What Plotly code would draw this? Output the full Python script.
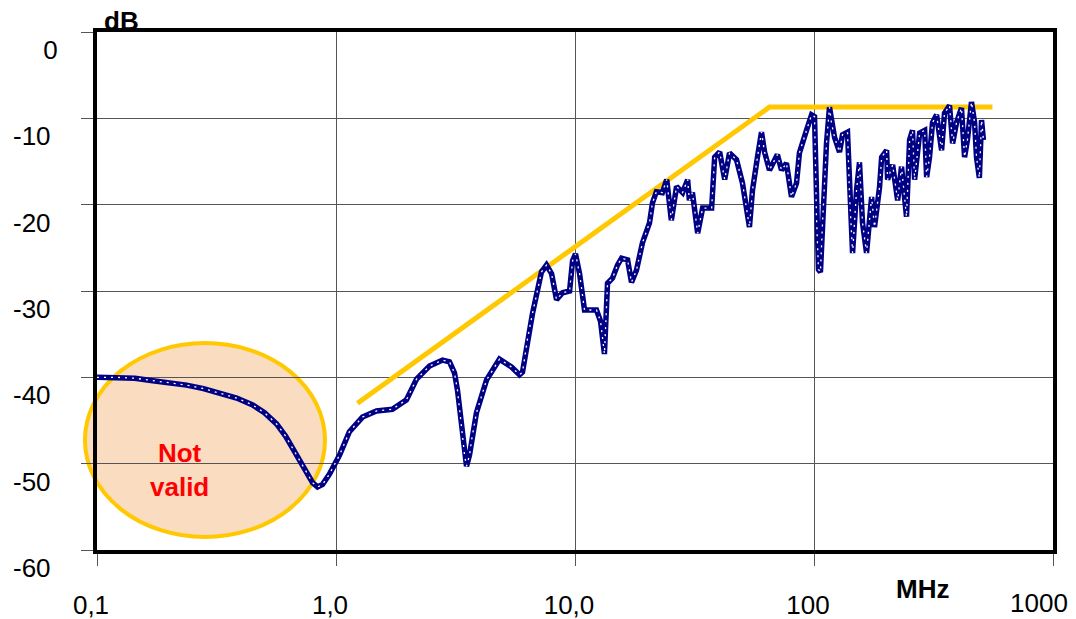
import plotly.graph_objects as go

# Measured response (MHz, dB)
freq_mhz = [0.1, 0.121, 0.144, 0.171, 0.201, 0.237, 0.279, 0.326, 0.384, 0.448, 0.502, 0.564,
            0.615, 0.658, 0.703, 0.753, 0.798, 0.837, 0.879, 0.939, 1.035, 1.138, 1.291, 1.477,
            1.721, 1.972, 2.173, 2.461, 2.792, 2.985, 3.133, 3.224, 3.35, 3.45, 3.516, 3.62,
            3.69, 3.87, 4.265, 4.83, 5.42, 5.86, 6.03, 6.33, 6.64, 6.97, 7.24, 7.60, 7.98,
            8.37, 8.87, 9.49, 9.77, 10.05, 10.45, 10.96, 12.3, 12.79, 13.28, 13.68, 14.36,
            15.06, 15.66, 16.6, 17.23, 18.08, 19.16, 20.5, 21.1, 21.9, 23.2, 24.2, 24.8, 25.3,
            26.6, 28.2, 29.6, 30.1, 31.0, 32.6, 34.2, 37.3, 38.4, 40.3, 42.3, 44.3, 47.4, 50.2,
            53.7, 55.3, 58.0, 60.3, 62.1, 65.1, 70.3, 73.1, 76.7, 80.5, 84.5, 86.9, 93.0, 97.7,
            100.5, 102.4, 104.4, 106.4, 108.6, 112.8, 116.1, 118.3, 121.9, 127.9, 131.6, 138.1,
            140.9, 145.0, 150.7, 155.0, 159.6, 165.9, 174.2, 179.1, 188.0, 191.9, 201.3, 203.2,
            213.3, 223.9, 232.4, 243.8, 251.2, 258.3, 263.6, 276.7, 290.4, 296.0, 304.3, 313.3,
            325.8, 341.9, 351.6, 369.0, 380.2, 394.7, 414.0, 426.6, 438.5, 456.0, 469.8, 478.6,
            492.0, 502.3, 511.7]
level_db = [-40.0, -40.0, -40.1, -40.4, -40.6, -40.9, -41.3, -41.8, -42.4, -43.2, -44.1, -45.4,
            -46.8, -48.2, -49.6, -51.0, -52.2, -52.7, -52.4, -51.2, -49.0, -46.3, -44.6, -43.9,
            -43.7, -42.6, -40.2, -38.7, -38.0, -38.2, -39.5, -41.5, -45.8, -49.0, -50.3, -49.0,
            -47.3, -44.1, -40.3, -37.9, -38.8, -39.7, -39.4, -35.5, -32.6, -29.9, -27.8, -27.0, -28.0,
            -31.0, -30.2, -30.0, -26.5, -25.7, -28.0, -32.2, -32.2, -33.5, -37.3, -29.1, -28.5,
            -27.0, -26.2, -26.4, -29.0, -27.6, -24.4, -22.1, -19.8, -18.5, -18.6, -17.1, -20.0, -21.8,
            -17.9, -18.6, -17.1, -19.5, -18.6, -23.3, -20.4, -20.4, -14.5, -13.9, -17.1, -14.0, -14.8, -17.5,
            -22.6, -18.3, -14.5, -11.6, -13.9, -16.0, -14.2, -16.0, -15.2, -19.1, -17.5, -14.0, -11.4, -9.6,
            -9.8, -21.4, -27.5, -27.8, -22.0, -12.9, -8.7, -10.5, -12.2, -13.9, -11.9, -11.6,
            -19.1, -25.6, -18.3, -15.1, -22.1, -25.6, -19.1, -22.6, -18.0, -14.5, -13.7, -17.1,
            -15.4, -19.5, -15.6, -21.4, -12.5, -11.4, -17.1, -11.7, -11.4, -16.8, -14.5, -10.5,
            -9.6, -13.7, -9.4, -8.5, -12.9, -10.5, -8.8, -14.5, -12.5, -8.1, -10.5, -14.5,
            -16.9, -10.2, -12.5]

# Limit line (MHz, dB)
limit_freq = [1.23, 65.1, 558.0]
limit_db = [-43.0, -8.7, -8.7]

x_tick_vals = [0.1, 1, 10, 100, 1000]
x_tick_text = ["0,1", "1,0", "10,0", "100", ""]
last_x_label = "1000"
y_tick_vals = [0, -10, -20, -30, -40, -50, -60]
y_tick_text = ["0", "-10\u00a0", "-20\u00a0", "-30\u00a0", "-40\u00a0", "-50\u00a0", "-60\u00a0"]

FONT = "Liberation Sans, Arial, sans-serif"
NAVY = "#000085"
GOLD = "#FFC800"

fig = go.Figure()

fig.add_trace(go.Scatter(x=limit_freq, y=limit_db, mode="lines",
                         line=dict(color=GOLD, width=5), hoverinfo="skip"))
fig.add_trace(go.Scatter(x=freq_mhz, y=level_db, mode="lines",
                         line=dict(color=NAVY, width=5.5), hoverinfo="skip"))
fig.add_trace(go.Scatter(x=freq_mhz, y=level_db, mode="lines",
                         line=dict(color="white", width=1.3, dash="2px,5px"), hoverinfo="skip"))

# "Not valid" ellipse
fig.add_shape(type="circle", xref="paper", yref="paper",
              x0=-0.0126, x1=0.2385, y0=0.0251, y1=0.3996,
              fillcolor="#FADCC0", line=dict(color=GOLD, width=4), layer="below")

fig.add_annotation(xref="paper", yref="paper", x=0.0868, y=0.1544,
                   xanchor="center", yanchor="middle",
                   text="<b>Not<br>valid</b>", showarrow=False,
                   font=dict(family=FONT, size=26, color="#FF0000"))
fig.add_annotation(xref="paper", yref="paper", x=0.026, y=1.0212,
                   xanchor="center", yanchor="middle",
                   text="<b>dB</b>", showarrow=False,
                   font=dict(family=FONT, size=26, color="black"))
fig.add_annotation(xref="paper", yref="paper", x=0.863, y=-0.0753,
                   xanchor="center", yanchor="middle",
                   text="<b>MHz</b>", showarrow=False,
                   font=dict(family=FONT, size=26, color="black"))
fig.add_annotation(xref="paper", yref="paper", x=0.9854, y=-0.1023,
                   xanchor="center", yanchor="middle",
                   text=last_x_label, showarrow=False,
                   font=dict(family=FONT, size=26, color="black"))

fig.update_layout(
    width=1076, height=619,
    margin=dict(l=97, r=23, t=32, b=69),
    paper_bgcolor="white", plot_bgcolor="white",
    showlegend=False,
    font=dict(family=FONT, size=26, color="black"),
)
fig.update_xaxes(type="log", range=[-1, 3], tickvals=x_tick_vals, ticktext=x_tick_text,
                 showgrid=True, gridcolor="#555555", gridwidth=1,
                 showline=True, linecolor="black", linewidth=4, mirror=True,
                 ticks="outside", ticklen=12, tickcolor="#555555", tickwidth=1,
                 ticklabelstandoff=17, ticklabelshift=-6, ticklabeloverflow="allow",
                 automargin=False, zeroline=False)
fig.update_yaxes(range=[-60, 0], tickvals=y_tick_vals, ticktext=y_tick_text,
                 showgrid=True, gridcolor="#555555", gridwidth=1,
                 showline=True, linecolor="black", linewidth=4, mirror=True,
                 ticks="outside", ticklen=12, tickcolor="#555555", tickwidth=1,
                 ticklabelstandoff=18, ticklabelshift=18, ticklabeloverflow="allow",
                 automargin=False, zeroline=False)

fig.write_html("out.html")
